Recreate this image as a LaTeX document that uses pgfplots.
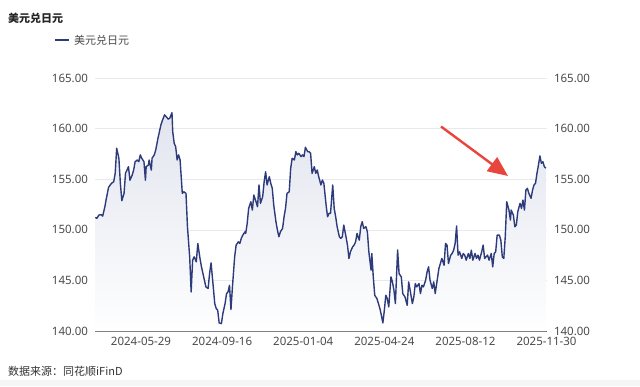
\documentclass[border=0pt]{standalone}
\usepackage{pgfplots}
\usepackage{pgfplotstable}
\pgfplotsset{compat=1.18}
\usepackage{fontspec}
\setmainfont{Noto Sans}
\newfontfamily\cjk{Noto Sans CJK SC}
\usetikzlibrary{arrows.meta}
\definecolor{lineblue}{HTML}{2E3B7A}
\definecolor{areatop}{HTML}{E2E5EF}
\definecolor{gridc}{HTML}{E6E9F0}
\definecolor{axisc}{HTML}{6E7079}
\definecolor{labelc}{HTML}{4A4A4A}
\definecolor{arrowred}{HTML}{E8453C}

\pgfplotstableread{
day value
-62 151.23
-60 151.13
-57 151.46
-54 151.50
-52 151.35
-49 152.28
-47 153.10
-44 154.20
-40 154.60
-37 154.75
-35 155.60
-33 158.06
-30 157.07
-28 154.60
-26 152.87
-23 153.60
-21 155.60
-19 155.90
-17 156.24
-15 154.90
-12 155.40
-10 155.90
-8 156.73
-5 156.90
-3 156.73
-1 157.40
1 157.07
4 156.73
6 154.90
7 156.24
10 156.40
11 156.90
14 155.90
15 157.07
18 157.40
20 157.90
23 159.05
25 159.70
27 160.37
29 160.80
32 161.36
34 161.19
37 160.93
39 161.03
42 161.58
43 159.70
45 158.55
47 158.22
49 156.90
51 157.40
53 156.90
56 153.60
58 153.76
61 153.60
63 150.30
66 147.33
68 143.86
70 147.00
72 147.33
75 146.83
77 148.65
80 147.17
82 146.34
84 145.68
86 145.02
88 144.36
91 144.20
93 145.68
95 146.73
98 144.36
100 142.71
102 142.22
104 142.05
106 140.80
109 140.73
111 141.72
114 142.71
116 143.70
118 143.86
120 144.52
122 142.12
124 144.36
127 147.33
129 148.49
132 148.81
134 148.65
136 149.15
138 149.47
141 149.80
142 149.64
144 150.63
146 152.12
149 152.77
151 151.95
153 153.44
156 152.77
158 152.28
160 154.43
162 152.61
165 153.27
167 154.75
169 155.74
171 154.43
174 155.25
176 154.59
178 154.10
180 152.45
183 150.80
185 149.97
187 149.31
189 149.80
192 150.14
194 151.29
196 152.12
198 153.60
201 153.76
203 156.08
205 157.07
208 156.90
210 157.72
212 157.40
214 157.56
217 157.23
219 157.40
221 157.23
223 158.16
226 157.72
228 157.72
230 157.56
232 155.58
235 156.24
237 155.58
239 155.91
241 155.25
244 154.43
246 154.92
248 154.59
251 152.45
253 151.29
255 151.62
257 151.62
260 154.43
262 152.12
264 151.29
266 150.30
269 149.31
271 149.15
273 149.31
275 150.47
278 149.31
280 148.49
282 147.17
284 147.82
287 148.32
289 148.49
291 148.81
293 149.64
296 148.98
298 150.30
300 150.80
302 150.14
305 150.30
307 149.80
309 147.82
312 146.01
313 147.66
315 145.35
317 143.53
320 143.20
322 142.71
324 142.22
326 141.55
328 140.80
330 142.05
332 143.53
334 143.20
336 142.38
339 145.35
341 144.85
343 144.03
345 142.71
348 148.00
350 145.68
353 145.35
355 143.70
358 143.37
361 142.54
363 144.85
365 144.03
368 142.71
370 143.37
372 144.69
374 144.36
377 144.69
379 143.70
381 144.52
383 144.36
386 145.02
388 145.84
390 146.34
392 145.02
395 144.20
397 144.85
399 143.70
401 144.69
404 146.18
406 146.67
408 147.17
411 146.50
413 148.65
415 148.49
417 146.67
420 147.50
422 147.66
424 147.99
426 148.65
428 150.37
430 147.50
432 147.82
435 147.17
437 147.66
439 147.50
441 147.00
444 147.66
446 147.17
448 147.99
450 147.00
453 147.66
455 147.17
457 147.50
459 147.00
462 147.82
464 148.49
466 147.17
468 147.33
470 147.50
472 147.00
475 147.66
477 146.34
479 147.66
481 147.82
483 149.47
486 149.47
488 148.98
490 147.33
492 147.17
494 149.31
496 152.77
499 151.95
501 150.96
502 151.95
505 151.46
507 150.30
509 150.47
511 151.79
514 152.61
516 152.12
518 152.94
520 151.95
522 153.93
524 154.10
526 153.60
529 153.11
531 153.93
533 154.43
535 154.59
537 155.58
539 156.40
541 157.30
543 156.57
545 156.73
547 156.24
549 156.08
}\usdjpy

\pgfplotsset{
  basechart/.style={
    at={(95pt,55pt)}, anchor=south west,
    width=452pt, height=253pt, scale only axis,
    xmin=-62.4, xmax=550.6, ymin=140, ymax=165,
    ytick={140,145,150,155,160,165},
    major tick length=0pt,
    tick label style={font=\fontsize{11.5}{13}\selectfont, text=labelc},
    yticklabel={\pgfmathprintnumber[fixed,fixed zerofill,precision=2]{\tick}},
    /pgf/number format/assume math mode=true,
  }
}

\begin{document}
\begin{tikzpicture}
\path[use as bounding box] (0,0) rectangle (640pt,386pt);
\fill[white] (0,0) rectangle (640pt,386pt);
\fill[gray!8] (0,0) rectangle (640pt,6pt);

\begin{axis}[basechart,
    axis x line*=bottom, axis y line*=left,
    y axis line style={draw=none},
    x axis line style={draw=axisc, line width=0.8pt},
    ymajorgrids, grid style={draw=gridc, line width=0.6pt},
    xtick={0,110,220,330,440,550},
    xticklabels={2024-05-29,2024-09-16,2025-01-04,2025-04-24,2025-08-12,2025-11-30},
    xticklabel style={yshift=-2.5pt},
    yticklabel style={xshift=-3.5pt},
    clip=true,
  ]
  \addplot[draw=none, top color=areatop, bottom color=white!97!areatop] table[x=day,y=value]{\usdjpy} \closedcycle;
  \addplot[lineblue, line width=1.4pt, line join=round] table[x=day,y=value]{\usdjpy};
\end{axis}

\begin{axis}[basechart,
    axis x line=none, axis y line*=right,
    y axis line style={draw=none},
    xtick=\empty,
    yticklabel style={xshift=3.5pt},
  ]
  \addplot[draw=none] coordinates {(0,150)};
\end{axis}

% title, legend, source
\node[anchor=west, inner sep=0pt, text=black!85] at (8pt,368pt) {\cjk\bfseries\fontsize{11}{13}\selectfont 美元兑日元};
\draw[lineblue, line width=1.6pt] (55pt,346pt) -- (69pt,346pt);
\node[anchor=west, inner sep=0pt, text=labelc] at (74pt,346pt) {\cjk\fontsize{11}{13}\selectfont 美元兑日元};
\node[anchor=west, inner sep=0pt, text=black!80] at (8pt,15pt) {\cjk\fontsize{11}{13}\selectfont 数据来源：同花顺iFinD};

% red arrow
\draw[arrowred, line width=2.4pt, -{Triangle[length=20pt,width=17pt]}] (441pt,259.5pt) -- (508pt,210pt);
\end{tikzpicture}
\end{document}
